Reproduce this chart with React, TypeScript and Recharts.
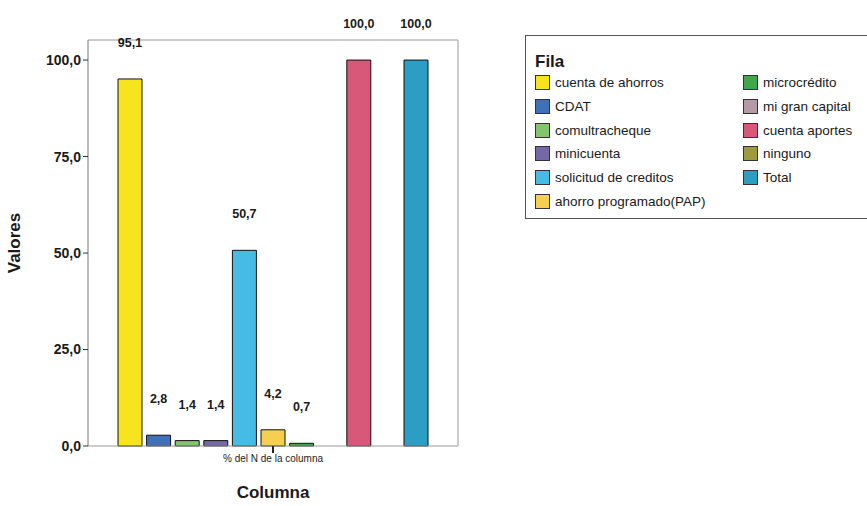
import { BarChart, Bar, XAxis, YAxis, LabelList, Label } from 'recharts'

const categories = ['% del N de la columna']

const seriesNames = [
  'cuenta de ahorros',
  'CDAT',
  'comultracheque',
  'minicuenta',
  'solicitud de creditos',
  'ahorro programado(PAP)',
  'microcrédito',
  'mi gran capital',
  'cuenta aportes',
  'ninguno',
  'Total',
]

const seriesValues = [95.1, 2.8, 1.4, 1.4, 50.7, 4.2, 0.7, 0, 100, 0, 100]

const seriesColors = [
  '#f8e41c',
  '#4070b8',
  '#84c46e',
  '#7468a8',
  '#46bbe6',
  '#f5d050',
  '#40a84a',
  '#b49aa6',
  '#d8587a',
  '#9c9c3c',
  '#2c9ec4',
]

const yTicks = [0, 25, 50, 75, 100]

const FONT = '"Liberation Sans", Arial, sans-serif'

const data = categories.map((category) => {
  const row: Record<string, string | number> = { category }
  seriesValues.forEach((v, i) => {
    row[`s${i}`] = v
  })
  return row
})

const fmt = (v: number) => v.toFixed(1).replace('.', ',')

// SPSS puts the value text well above the bar top
function ValueLabel(props: any) {
  const { x, y, width, value } = props
  if (!value) return null
  return (
    <text
      x={Number(x) + Number(width) / 2}
      y={Number(y) - 36}
      textAnchor="middle"
      dominantBaseline="central"
      fontFamily={FONT}
      fontWeight="bold"
      fontSize={12.5}
      fill="#1a1a1a"
    >
      {fmt(Number(value))}
    </text>
  )
}

// left column holds the first six entries, right column the rest
function FilaLegend() {
  const firstRow = 82
  const rowStep = 23.8
  return (
    <div
      style={{
        position: 'absolute',
        left: 525,
        top: 35,
        width: 360,
        height: 184,
        border: '1px solid #555',
        fontFamily: FONT,
        boxSizing: 'border-box',
      }}
    >
      <div
        style={{
          position: 'absolute',
          left: 9,
          top: 16,
          fontSize: 17,
          fontWeight: 'bold',
          color: '#1a1a1a',
        }}
      >
        Fila
      </div>
      {seriesNames.map((name, i) => {
        const col = i < 6 ? 0 : 1
        const row = col === 0 ? i : i - 6
        return (
          <div
            key={name}
            style={{
              position: 'absolute',
              left: col === 0 ? 9 : 217,
              top: firstRow + row * rowStep - 35 - 8,
              display: 'flex',
              alignItems: 'center',
              whiteSpace: 'nowrap',
              fontSize: 13.5,
              color: '#1a1a1a',
            }}
          >
            <span
              style={{
                display: 'inline-block',
                width: 13,
                height: 13,
                background: seriesColors[i],
                border: '1px solid #333',
                marginRight: 5,
              }}
            />
            {name}
          </div>
        )
      })}
    </div>
  )
}

export default function App() {
  return (
    <div
      style={{
        position: 'absolute',
        left: 0,
        top: 0,
        width: 867,
        height: 506,
        overflow: 'hidden',
        background: '#fff',
      }}
    >
      <BarChart
        width={867}
        height={506}
        data={data}
        margin={{ top: 39, right: 408, bottom: 0, left: 0 }}
        barSize={24}
        barGap={4.6}
      >
        <XAxis
          xAxisId="bottom"
          dataKey="category"
          height={60}
          axisLine={{ stroke: '#9a9a9a' }}
          tickLine={{ stroke: '#222', strokeWidth: 2 }}
          tickSize={7}
          tick={{ fontFamily: FONT, fontSize: 10, fill: '#222' }}
        >
          <Label
            value="Columna"
            position="insideBottom"
            offset={8}
            style={{ fontFamily: FONT, fontWeight: 'bold', fontSize: 17, fill: '#1a1a1a' }}
          />
        </XAxis>
        <XAxis
          xAxisId="top"
          dataKey="category"
          orientation="top"
          height={1}
          tick={false}
          tickLine={false}
          axisLine={{ stroke: '#9a9a9a' }}
        />
        <YAxis
          yAxisId="left"
          width={88}
          domain={[0, 105.2]}
          ticks={yTicks}
          tickFormatter={fmt}
          tickSize={5}
          axisLine={{ stroke: '#777' }}
          tickLine={{ stroke: '#333' }}
          tick={{ fontFamily: FONT, fontWeight: 'bold', fontSize: 14, fill: '#1a1a1a' }}
        >
          <Label
            value="Valores"
            angle={-90}
            position="insideLeft"
            offset={14}
            style={{
              fontFamily: FONT,
              fontWeight: 'bold',
              fontSize: 17,
              fill: '#1a1a1a',
              textAnchor: 'middle',
            }}
          />
        </YAxis>
        <YAxis
          yAxisId="right"
          orientation="right"
          width={1}
          domain={[0, 105.2]}
          tick={false}
          tickLine={false}
          axisLine={{ stroke: '#9a9a9a' }}
        />
        {seriesNames.map((name, i) => (
          <Bar
            key={name}
            name={name}
            dataKey={`s${i}`}
            xAxisId="bottom"
            yAxisId="left"
            fill={seriesColors[i]}
            stroke="#111"
            strokeWidth={1}
            isAnimationActive={false}
          >
            <LabelList dataKey={`s${i}`} content={ValueLabel} />
          </Bar>
        ))}
      </BarChart>
      <FilaLegend />
    </div>
  )
}
